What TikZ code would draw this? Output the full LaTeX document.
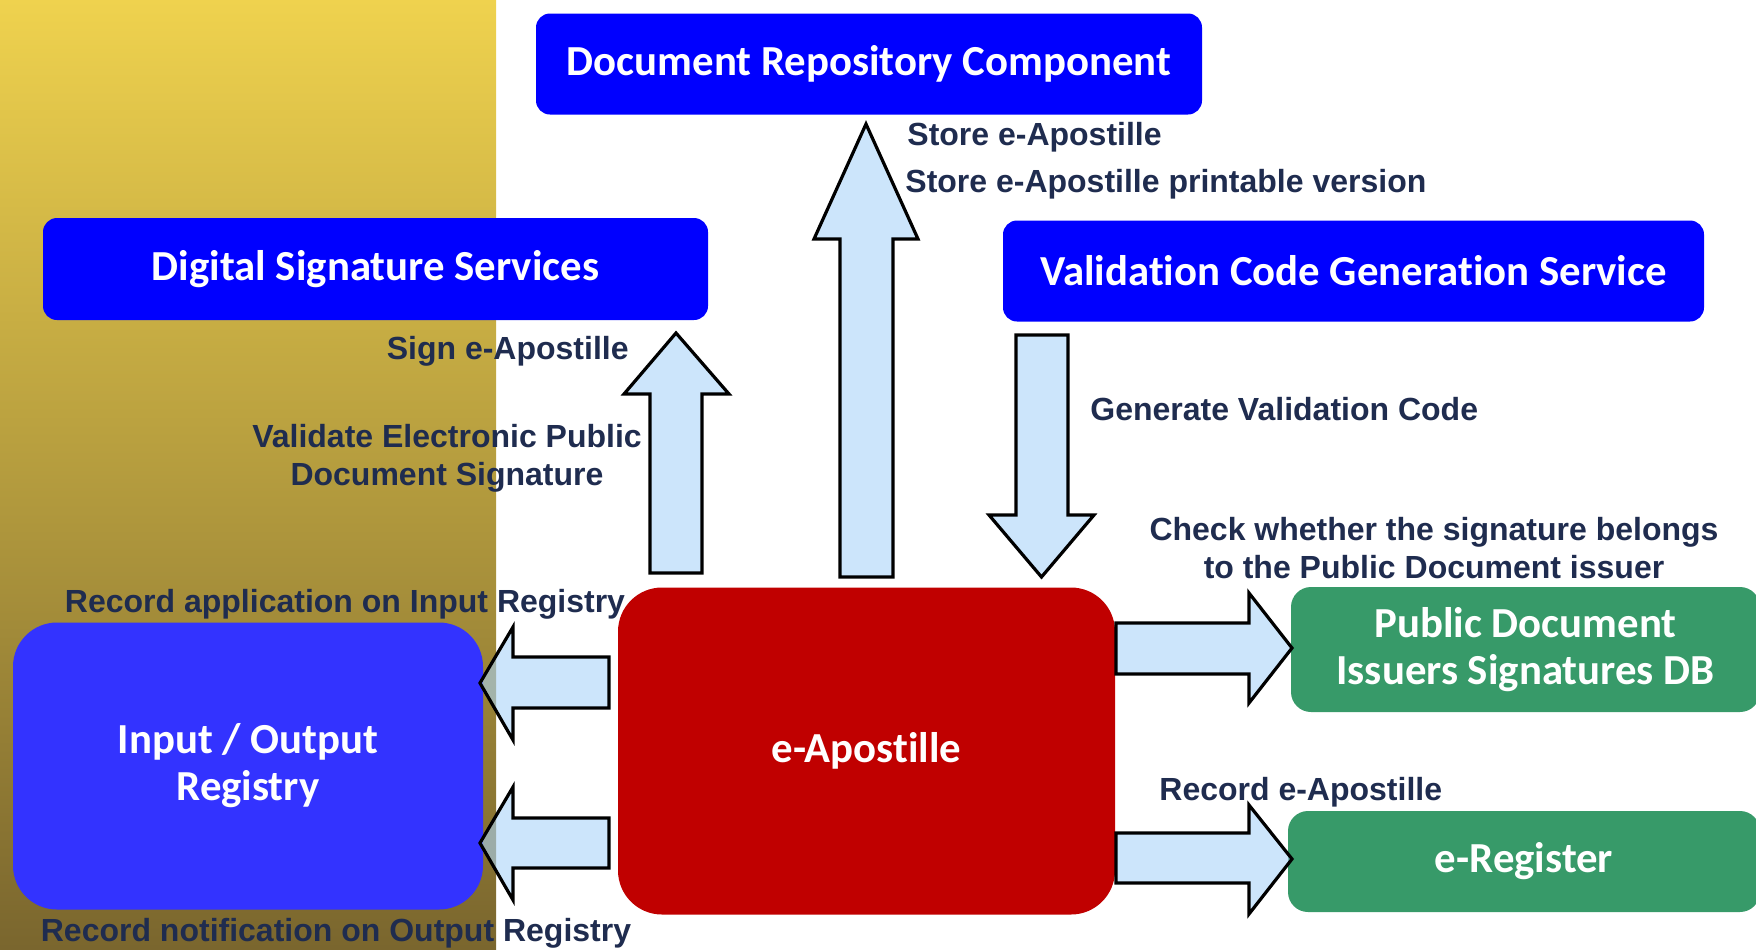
\documentclass[tikz,border=0pt]{standalone}
\usepackage{fontspec}
\newfontfamily\boxfont[Ligatures=CommonOff]{Carlito}
\newfontfamily\labfont{Liberation Sans}
\definecolor{gtop}{RGB}{239,210,78}
\definecolor{gbot}{RGB}{122,102,46}
\definecolor{pureblue}{RGB}{0,0,255}
\definecolor{ioblue}{RGB}{51,51,255}
\definecolor{eared}{RGB}{192,0,0}
\definecolor{dbgreen}{RGB}{55,154,105}
\definecolor{arrowc}{RGB}{170,212,248}
\definecolor{navy}{RGB}{31,44,79}
\begin{document}
\begin{tikzpicture}[x=0.5pt,y=-0.5pt,
  boxtxt/.style={text=white, align=center, inner sep=0pt,
    font=\boxfont\bfseries\fontsize{21.4}{23.5}\selectfont},
  bluebox/.style={boxtxt, fill=pureblue, rounded corners=7pt},
  iobox/.style={boxtxt, fill=ioblue, rounded corners=22pt},
  redbox/.style={boxtxt, fill=eared, rounded corners=22pt},
  greenbox/.style={boxtxt, fill=dbgreen, rounded corners=10pt},
  blockarrow/.style={draw=black, line width=1.6pt, fill=arrowc, fill opacity=0.6, line join=miter},
  lab/.style={text=navy, inner sep=0pt, align=center,
    font=\labfont\bfseries\fontsize{16}{19}\selectfont}]
\useasboundingbox (0,0) rectangle (1756,949);
\clip (0,0) rectangle (1756,949);
\shade[top color=gtop, bottom color=gbot] (0,0) rectangle (496,949);

% boxes
\node[bluebox, minimum width=333pt, minimum height=50.5pt] (drc) at (869,64) {Document Repository Component};
\node[bluebox, minimum width=332.5pt, minimum height=51pt] (dss) at (375.5,269) {Digital Signature Services};
\node[bluebox, minimum width=350.5pt, minimum height=50.5pt] (vcg) at (1353.5,271) {Validation Code Generation Service};
\node[iobox, minimum width=235pt, minimum height=143.5pt] (io) at (248,766) {Input / Output\\Registry};
\node[redbox, minimum width=248.5pt, minimum height=163.5pt] (ea) at (866.5,751) {e-Apostille};
\node[greenbox, minimum width=234.5pt, minimum height=62.5pt] (pd) at (1525.5,649.5) {Public Document\\Issuers Signatures DB};
\node[greenbox, minimum width=236pt, minimum height=50.5pt] (er) at (1524,861.5) {e-Register};

% block arrows
% up to Document Repository
\draw[blockarrow] (840,577) -- (840,239) -- (814,239) -- (866,124) -- (918,239) -- (893,239) -- (893,577) -- cycle;
% up to Digital Signature Services
\draw[blockarrow] (650,573) -- (650,394) -- (624,394) -- (676,333) -- (729,394) -- (702,394) -- (702,573) -- cycle;
% down from Validation Code Generation
\draw[blockarrow] (1016,335) -- (1016,515) -- (989,515) -- (1041.5,577) -- (1094,515) -- (1068,515) -- (1068,335) -- cycle;
% right to Public Document DB
\draw[blockarrow] (1116,623) -- (1249,623) -- (1249,593) -- (1292,648) -- (1249,703) -- (1249,674) -- (1116,674) -- cycle;
% right to e-Register
\draw[blockarrow] (1116,833) -- (1249,833) -- (1249,805) -- (1292,859) -- (1249,914) -- (1249,883) -- (1116,883) -- cycle;
% left to Input registry
\draw[blockarrow] (609,657) -- (513,657) -- (513,627) -- (480,683) -- (513,740) -- (513,708) -- (609,708) -- cycle;
% left to Output registry
\draw[blockarrow] (609,818) -- (513,818) -- (513,787) -- (480,843) -- (513,900) -- (513,868) -- (609,868) -- cycle;

% labels
\node[lab, anchor=west] (l1) at (907,137) {Store e-Apostille};
\node[lab, anchor=west] (l2) at (905,184) {Store e-Apostille printable version};
\node[lab, anchor=east] (l3) at (629,351) {Sign e-Apostille};
\node[lab] (l4) at (447,458) {Validate Electronic Public\\Document Signature};
\node[lab, anchor=west] (l5) at (1090,409) {Generate Validation Code};
\node[lab] (l6) at (1434,548) {Check whether the signature belongs\\to the Public Document issuer};
\node[lab] (l7) at (345,604) {Record application on Input Registry};
\node[lab] (l8) at (336,933) {Record notification on Output Registry};
\node[lab, anchor=west] (l9) at (1159,792) {Record e-Apostille};
\end{tikzpicture}
\end{document}
